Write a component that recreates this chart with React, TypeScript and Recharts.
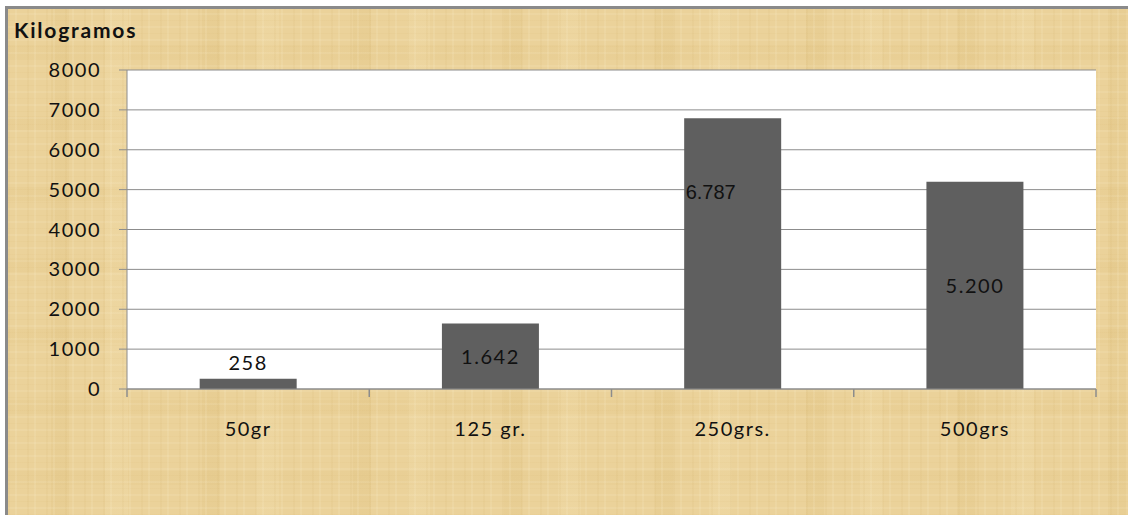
import { BarChart, Bar, XAxis, YAxis, CartesianGrid, LabelList } from 'recharts'

const categories = ['50gr', '125 gr.', '250grs.', '500grs']
const kilos = [258, 1642, 6787, 5200]
const yTicks = [0, 1000, 2000, 3000, 4000, 5000, 6000, 7000, 8000]
const edgeTicks = [0, 1, 2, 3, 4]

// pos = category centre on a 0..4 scale, used by the boundary tick axis
const data = categories.map((name, i) => ({ name, kg: kilos[i], pos: i + 0.5 }))

const FONT = 'Lato, "Open Sans", sans-serif'
const GRID = '#8c8c8c'

// thousands separated with a dot, e.g. 1642 -> 1.642
const fmt = (v: number) => String(v).replace(/\B(?=(\d{3})+(?!\d))/g, '.')

// papyrus-like fibre texture for the chart area
const papyrus = [
  'repeating-linear-gradient(90deg, rgba(190,150,70,0.06) 0px, rgba(190,150,70,0.06) 2px, transparent 2px, transparent 7px, rgba(255,245,215,0.12) 7px, rgba(255,245,215,0.12) 9px, transparent 9px, transparent 19px)',
  'repeating-linear-gradient(0deg, rgba(200,160,80,0.05) 0px, rgba(200,160,80,0.05) 1px, transparent 1px, transparent 6px, rgba(255,248,225,0.10) 6px, rgba(255,248,225,0.10) 8px, transparent 8px, transparent 13px)',
  'repeating-linear-gradient(90deg, transparent 0px, transparent 43px, rgba(205,170,90,0.10) 43px, rgba(205,170,90,0.10) 61px, transparent 61px, transparent 97px, rgba(255,240,200,0.12) 97px, rgba(255,240,200,0.12) 120px, transparent 120px, transparent 151px)',
  'repeating-linear-gradient(0deg, transparent 0px, transparent 30px, rgba(210,175,95,0.08) 30px, rgba(210,175,95,0.08) 44px, transparent 44px, transparent 71px)',
].join(', ')

const BarLabel = (props: any) => {
  const { x, y, width, height, value, index } = props
  const cx = x + width / 2
  let tx = cx
  let ty = y + height / 2
  let family = FONT
  let spacing = 1.5
  if (index === 0) {
    ty = y - 17
  } else if (index === 2) {
    // this one sits off-centre, nudged left and near the upper part of the bar
    tx = cx - 22
    ty = y + 74
    family = '"Liberation Sans", Arial, sans-serif'
    spacing = 0
  }
  return (
    <text
      x={tx}
      y={ty}
      textAnchor="middle"
      dominantBaseline="central"
      fontFamily={family}
      fontSize={20}
      letterSpacing={spacing}
      fill="#111"
    >
      {fmt(value)}
    </text>
  )
}

export default function App() {
  return (
    <div style={{ position: 'absolute', left: 0, top: 0, width: 1128, height: 515, overflow: 'hidden' }}>
      <div
        style={{
          position: 'absolute',
          left: 5,
          top: 6,
          width: 1123,
          height: 509,
          boxSizing: 'border-box',
          borderLeft: '3px solid #8a8a8a',
          borderTop: '3px solid #8a8a8a',
          backgroundColor: '#ebd29a',
          backgroundImage: papyrus,
        }}
      />
      <div
        style={{
          position: 'absolute',
          left: 14,
          top: 17,
          fontFamily: FONT,
          fontWeight: 700,
          fontSize: 21,
          letterSpacing: 1.8,
          color: '#111',
        }}
      >
        Kilogramos
      </div>
      <div style={{ position: 'absolute', left: 0, top: 0 }}>
        <BarChart
          width={1128}
          height={515}
          data={data}
          margin={{ top: 70, right: 32, bottom: 0, left: 0 }}
          barCategoryGap="30%"
        >
          <CartesianGrid vertical={false} stroke={GRID} fill="#ffffff" horizontalValues={yTicks} />
          {/* boundary ticks between categories, sits right on the plot edge */}
          <XAxis
            xAxisId="a"
            dataKey="pos"
            type="number"
            domain={[0, 4]}
            ticks={edgeTicks}
            interval={0}
            allowDataOverflow
            height={8}
            tickFormatter={() => ''}
            tickSize={8}
            axisLine={{ stroke: GRID }}
            tickLine={{ stroke: GRID, strokeWidth: 1.5 }}
          />
          <XAxis
            xAxisId="b"
            dataKey="name"
            height={118}
            axisLine={false}
            tickLine={false}
            tickSize={0}
            tickMargin={25}
            tick={{ fill: '#111', fontSize: 20, fontFamily: FONT, letterSpacing: 1.5 }}
          />
          <YAxis
            width={127}
            domain={[0, 8000]}
            ticks={yTicks}
            interval={0}
            tickSize={8}
            tickMargin={18}
            axisLine={{ stroke: GRID }}
            tickLine={{ stroke: GRID }}
            tick={{ fill: '#111', fontSize: 20, fontFamily: FONT, letterSpacing: 1.5 }}
          />
          <Bar xAxisId="b" dataKey="kg" fill="#5f5f5f" isAnimationActive={false}>
            <LabelList dataKey="kg" content={BarLabel} />
          </Bar>
        </BarChart>
      </div>
    </div>
  )
}
